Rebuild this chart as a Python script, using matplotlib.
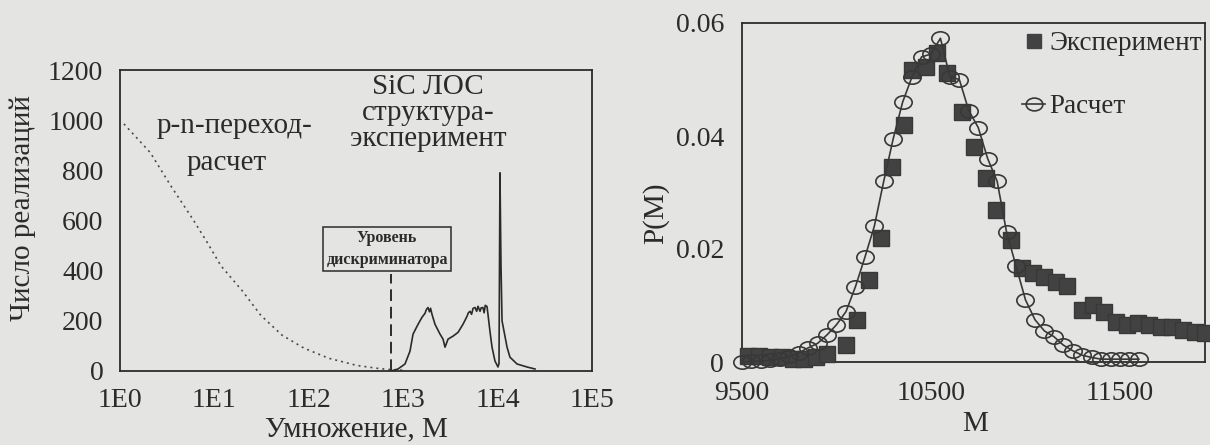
import numpy as np
import matplotlib
matplotlib.use("Agg")
import matplotlib.pyplot as plt
from matplotlib.path import Path
from matplotlib.transforms import Affine2D
from matplotlib.lines import Line2D
from matplotlib.ticker import FixedLocator, NullLocator

plt.rcParams['font.family'] = ['Liberation Serif', 'DejaVu Serif']

# ---------------- data: left panel ----------------
pn_M = [1.1, 2.09, 3.47, 5.89, 8.32, 11.7, 20, 31, 52, 89, 162, 324, 550, 708, 1000]
pn_N = [985, 871, 737, 606, 515, 420, 317, 222, 143, 91, 51, 22, 10, 6, 3]

sic_M = [741, 881, 1045, 1180, 1271, 1436, 1581, 1702, 1760, 1832, 1900, 1950, 2018,
         2173, 2455, 2642, 2773, 2985, 3373, 3811, 4295, 4742, 4900, 5105, 5300, 5500,
         5768, 6000, 6200, 6516, 6700, 6998, 7200, 7400, 7727, 7907, 8299, 8730, 9376,
         10093, 10350, 10593, 10864, 11143, 12590, 13520, 16060, 20470, 24900]
sic_N = [0, 8, 28, 79, 147, 186, 214, 230, 245, 253, 236, 250, 226,
         186, 147, 127, 95, 127, 139, 154, 186, 218, 232, 238, 226, 250,
         253, 238, 258, 238, 252, 253, 232, 262, 257, 226, 158, 95, 40,
         16, 30, 790, 420, 200, 95, 55, 28, 16, 8]

disc_M = 740
disc_top = 385

left_xticks = [1e0, 1e1, 1e2, 1e3, 1e4, 1e5]
left_xlabels = ["1E0", "1E1", "1E2", "1E3", "1E4", "1E5"]
left_yticks = [0, 200, 400, 600, 800, 1000, 1200]

# ---------------- data: right panel ----------------
exp_M = [9530, 9590, 9650, 9710, 9770, 9830, 9890, 9950, 10049, 10107, 10170, 10233,
         10292, 10355, 10402, 10476, 10534, 10587, 10666, 10730, 10793, 10846, 10925,
         10983, 11041, 11100, 11160, 11220, 11299, 11358, 11416, 11479, 11537, 11595,
         11653, 11716, 11774, 11832, 11895, 11950]
exp_P = [0.0010, 0.0010, 0.0009, 0.0008, 0.0006, 0.0005, 0.0008, 0.0015, 0.0030, 0.0074,
         0.0145, 0.0219, 0.0345, 0.0419, 0.0517, 0.0522, 0.0547, 0.0512, 0.0443, 0.0381,
         0.0326, 0.0269, 0.0216, 0.0166, 0.0157, 0.0151, 0.0142, 0.0135, 0.0092, 0.0101,
         0.0089, 0.0071, 0.0065, 0.0069, 0.0065, 0.0062, 0.0062, 0.0057, 0.0053, 0.0051]

calc_M = [9500, 9550, 9600, 9650, 9700, 9750, 9800, 9850, 9900, 9950, 10000, 10050,
          10100, 10150, 10200, 10250, 10300, 10350, 10400, 10450, 10500, 10550, 10600,
          10650, 10700, 10750, 10800, 10850, 10900, 10950, 11000, 11050, 11100, 11150,
          11200, 11250, 11300, 11350, 11400, 11450, 11500, 11550, 11600]
calc_P = [0.0, 0.0001, 0.0002, 0.0003, 0.0006, 0.0010, 0.0016, 0.0025, 0.0033, 0.0048,
          0.0066, 0.0089, 0.0133, 0.0185, 0.0240, 0.0320, 0.0395, 0.0460, 0.0505, 0.0540,
          0.0545, 0.0573, 0.0505, 0.0500, 0.0445, 0.0415, 0.0360, 0.0320, 0.0230, 0.0170,
          0.0110, 0.0075, 0.0055, 0.0045, 0.0030, 0.0020, 0.0012, 0.0008, 0.0005, 0.0005,
          0.0005, 0.0005, 0.0005]

right_xticks = [9500, 10500, 11500]
right_yticks = [0, 0.02, 0.04, 0.06]
right_ylabels = ["0", "0.02", "0.04", "0.06"]

# ---------------- style ----------------
BG = '#e4e4e2'
INK = '#2b2b2b'
FS = 20
FT = 21

fig = plt.figure(figsize=(12.10, 4.45), dpi=100, facecolor=BG)

# ---- left axes ----
ax1 = fig.add_axes([120/1210, 1 - 371/445, 472/1210, 301/445], facecolor=BG)
ax1.set_xscale('log')
ax1.set_xlim(1, 1e5)
ax1.set_ylim(0, 1200)
ax1.plot(pn_M, pn_N, color='#4a4a4a', lw=1.2, ls=(0, (1.2, 2.4)))
ax1.plot(sic_M, sic_N, color=INK, lw=1.2)
ax1.vlines(disc_M, 0, disc_top, colors=INK, lw=1.4, linestyles=(0, (6, 3)))

ax1.xaxis.set_major_locator(FixedLocator(left_xticks))
ax1.xaxis.set_minor_locator(NullLocator())
ax1.set_xticklabels(left_xlabels)
ax1.set_yticks(left_yticks)
ax1.tick_params(axis='both', length=0, labelsize=FS, colors=INK)
ax1.tick_params(axis='x', pad=12)
ax1.tick_params(axis='y', pad=12)
for s in ax1.spines.values():
    s.set_color(INK)
    s.set_linewidth(1.3)
ax1.set_xlabel("Умножение, М", fontsize=FT, color=INK)
ax1.xaxis.set_label_coords(0.5, -0.15)
ax1.set_ylabel("Число реализаций", fontsize=FT, color=INK)
ax1.yaxis.set_label_coords(-0.178, 0.54)

ax1.text(0.2415, 0.814, "p-n-переход-", transform=ax1.transAxes, ha='center', va='center',
         fontsize=FT, color=INK)
ax1.text(0.225, 0.691, "расчет", transform=ax1.transAxes, ha='center', va='center',
         fontsize=FT, color=INK)
ax1.text(0.653, 0.944, "SiC ЛОС", transform=ax1.transAxes, ha='center', va='center',
         fontsize=FT, color=INK)
ax1.text(0.653, 0.857, "структура-", transform=ax1.transAxes, ha='center', va='center',
         fontsize=FT, color=INK)
ax1.text(0.653, 0.771, "эксперимент", transform=ax1.transAxes, ha='center', va='center',
         fontsize=FT, color=INK)
ax1.text(0.566, 0.405, "Уровень\nдискриминатора", transform=ax1.transAxes, ha='center',
         va='center', fontsize=11.5, color=INK, fontweight='bold', linespacing=1.5,
         bbox=dict(boxstyle='square,pad=0.2', facecolor='none', edgecolor=INK, lw=1.1))

# ---- right axes ----
ax2 = fig.add_axes([742/1210, 1 - 362/445, 463/1210, 339/445], facecolor=BG)
ax2.set_xlim(9500, 11950)
ax2.set_ylim(0, 0.06)

ell = Path.unit_circle().transformed(Affine2D().scale(1.3, 1.0))

ax2.plot(exp_M, exp_P, ls='none', marker='s', ms=12, color='#424242',
         markeredgecolor='#383838', zorder=3, clip_on=False)
ax2.plot(calc_M, calc_P, color='#383838', lw=1.2, marker=ell, ms=12.5,
         markerfacecolor='none', markeredgecolor='#383838', markeredgewidth=1.2,
         zorder=4, clip_on=False)

ax2.set_xticks(right_xticks)
ax2.set_yticks(right_yticks)
ax2.set_yticklabels(right_ylabels)
ax2.tick_params(axis='both', length=0, labelsize=FS, colors=INK)
ax2.tick_params(axis='x', pad=14)
ax2.tick_params(axis='y', pad=13)
for s in ax2.spines.values():
    s.set_color(INK)
    s.set_linewidth(1.3)
ax2.set_xlabel("M", fontsize=FT, color=INK)
ax2.xaxis.set_label_coords(0.503, -0.145)
ax2.set_ylabel("P(M)", fontsize=FT, color=INK)
ax2.yaxis.set_label_coords(-0.158, 0.44)

h_exp = Line2D([], [], ls='none', marker='s', ms=10, color='#424242')
h_calc = Line2D([], [], color='#383838', lw=1.2, marker=ell, ms=12,
                markerfacecolor='none', markeredgecolor='#383838', markeredgewidth=1.2)
leg = ax2.legend([h_exp, h_calc], ["Эксперимент", "Расчет"], loc='upper left',
                 bbox_to_anchor=(0.605, 0.975), frameon=False, fontsize=19.5,
                 handlelength=0.85, handletextpad=0.15, labelspacing=1.4,
                 borderaxespad=0, borderpad=0)
for t in leg.get_texts():
    t.set_color(INK)

fig.savefig("out.png", dpi=100, facecolor=BG)
